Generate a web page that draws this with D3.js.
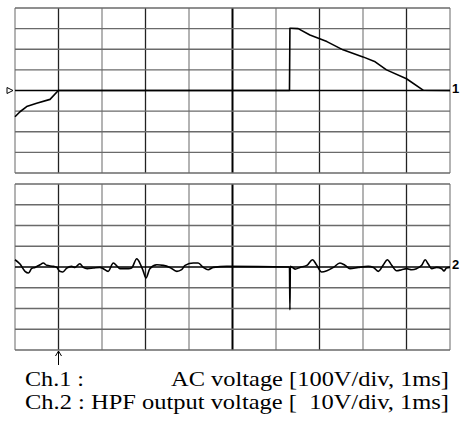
<!DOCTYPE html>
<html>
<head>
<meta charset="utf-8">
<script src="https://cdn.jsdelivr.net/npm/d3@7"></script>
<style>
  body { margin: 0; background: #fff; }
  svg { display: block; }
</style>
</head>
<body>
<svg id="svg-osc" width="460" height="423"></svg>
<script>
const ch1_x = [0, 0.115, 0.268, 0.498, 0.805, 0.996, 6.31, 6.32, 6.35, 6.51, 6.78, 7.17, 7.54, 8.0, 8.28, 8.54, 9.0, 9.39, 10];
const ch1_y = [-1.27, -1.03, -0.78, -0.62, -0.43, 0, 0, 3.02, 3.02, 3.0, 2.69, 2.37, 1.97, 1.63, 1.39, 1.0, 0.57, 0.01, 0];

const ch2_x = [0, 0.115, 0.23, 0.31, 0.38, 0.46, 0.575, 0.65, 0.73, 0.88, 0.96, 1.03, 1.10, 1.19, 1.30, 1.38, 1.49, 1.57, 1.66, 1.80, 1.95, 2.03, 2.14, 2.26, 2.35, 2.41, 2.61, 2.68, 2.80, 2.87, 2.95, 3.01, 3.10, 3.26, 3.41, 3.56, 3.72, 3.83, 3.91, 4.10, 4.21, 4.33, 4.44, 4.56, 4.87, 6.31, 6.32, 6.33, 6.44, 6.55, 6.71, 6.84, 6.93, 7.05, 7.17, 7.32, 7.47, 7.59, 7.70, 7.89, 8.12, 8.24, 8.35, 8.47, 8.56, 8.66, 8.77, 8.89, 9.00, 9.12, 9.23, 9.35, 9.43, 9.50, 9.58, 9.69, 9.81, 9.86, 9.92, 10];
const ch2_y = [0.35, 0.14, -0.21, -0.29, -0.08, -0.02, 0.11, 0.19, 0.08, 0.03, -0.02, -0.21, -0.24, -0.05, 0.03, -0.02, 0.16, -0.02, -0.08, -0.05, -0.02, -0.08, -0.21, 0.19, 0.03, -0.08, -0.08, -0.05, 0.40, 0.19, -0.21, -0.53, -0.08, 0.11, 0.08, -0.02, -0.21, -0.13, 0.08, 0.19, 0.19, -0.02, -0.13, -0.02, 0.03, 0, -2.06, 0.03, -0.10, -0.02, 0.08, 0.35, 0.11, -0.24, -0.18, -0.02, 0.19, 0.08, -0.08, -0.02, 0.03, -0.02, -0.21, 0.11, 0.35, 0.08, -0.18, -0.13, -0.08, -0.13, -0.08, 0.08, 0.35, 0.14, -0.08, -0.02, -0.08, -0.19, -0.05, -0.02];

// divisiones de la reticula
const div_x = d3.range(0, 11);   // 10 divisiones horizontales
const div_y = d3.range(-4, 5);   // 8 divisiones verticales

// textos de la leyenda
const leyenda_1a = "Ch.1 :";
const leyenda_1b = "AC voltage [100V/div, 1ms]";
const leyenda_2 = "Ch.2 : HPF output voltage [  10V/div, 1ms]";

const svg = d3.select("#svg-osc");

// escalas
const x = d3.scaleLinear().domain([0, 10]).range([15, 450]);
const y1 = d3.scaleLinear().domain([-4, 4]).range([173, 8]);
const y2 = d3.scaleLinear().domain([-4, 4]).range([350, 184]);

// dibuja la reticula de un panel
function crearReticula(y) {
  const g = svg.append("g");
  g.selectAll("line.v").data(div_x).join("line")
    .attr("x1", d => x(d)).attr("x2", d => x(d))
    .attr("y1", y(4)).attr("y2", y(-4))
    .style("stroke", d => d == 5 ? "#000" : (d % 2 == 1 ? "#222" : "#8a8a8a"))
    .style("stroke-width", d => d == 5 ? 2 : 1.3);
  g.selectAll("line.h").data(div_y).join("line")
    .attr("x1", x(0)).attr("x2", x(10))
    .attr("y1", d => y(d)).attr("y2", d => y(d))
    .style("stroke", d => d == 0 ? "#000" : "#6a6a6a")
    .style("stroke-width", 1.3);
}

crearReticula(y1);
crearReticula(y2);

// trazas
function crearTraza(xs, ys, y, curva) {
  const linea = d3.line().x(d => x(d[0])).y(d => y(d[1])).curve(curva);
  svg.append("path")
    .datum(d3.zip(xs, ys))
    .attr("d", linea)
    .style("fill", "none")
    .style("stroke", "#000")
    .style("stroke-width", 1.6)
    .style("stroke-linejoin", "round");
}

crearTraza(ch1_x, ch1_y, y1, d3.curveLinear);
crearTraza(ch2_x, ch2_y, y2, d3.curveMonotoneX);

// marcador de nivel de ch1 (triangulo a la izquierda)
const ty = y1(0);
svg.append("path")
  .attr("d", `M7,${ty - 3} L13,${ty} L7,${ty + 3} Z`)
  .style("fill", "#fff").style("stroke", "#000").style("stroke-width", 1);

// etiquetas de canal a la derecha
svg.append("text").attr("x", 452).attr("y", y1(0) + 2).text("1")
  .style("font-family", "Liberation Sans, Arial").style("font-weight", "bold").style("font-size", "13px");
svg.append("text").attr("x", 452).attr("y", y2(0) + 2).text("2")
  .style("font-family", "Liberation Sans, Arial").style("font-weight", "bold").style("font-size", "13px");

// flecha del disparo bajo el panel inferior
const fx = x(1);
svg.append("line").attr("x1", fx).attr("x2", fx).attr("y1", 351).attr("y2", 365)
  .style("stroke", "#000").style("stroke-width", 1);
svg.append("path").attr("d", `M${fx - 3},${356} L${fx},${351} L${fx + 3},${356}`)
  .style("fill", "none").style("stroke", "#000").style("stroke-width", 1);

// leyenda: letra algo estirada a lo ancho, como en la figura
const fuente = "Liberation Serif, Times New Roman, serif";
const tam = "21px";
svg.append("text").attr("x", 25).attr("y", 386).text(leyenda_1a)
  .attr("textLength", 59).attr("lengthAdjust", "spacingAndGlyphs")
  .style("font-family", fuente).style("font-size", tam);
svg.append("text").attr("x", 171).attr("y", 386).text(leyenda_1b)
  .attr("textLength", 278).attr("lengthAdjust", "spacingAndGlyphs")
  .style("font-family", fuente).style("font-size", tam);
svg.append("text").attr("x", 25).attr("y", 409).text(leyenda_2)
  .attr("textLength", 424).attr("lengthAdjust", "spacingAndGlyphs")
  .style("font-family", fuente).style("font-size", tam).style("white-space", "pre");
</script>
</body>
</html>
